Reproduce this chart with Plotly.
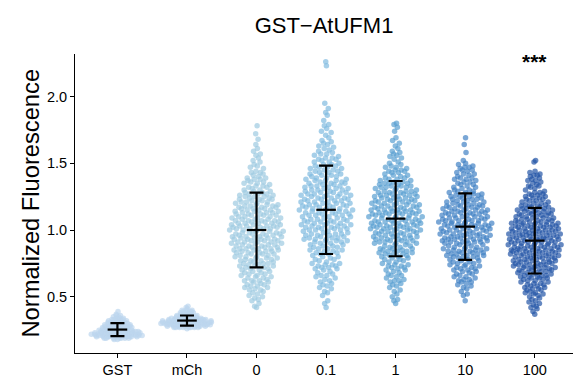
import numpy as np
import plotly.graph_objects as go

# ---- data -------------------------------------------------------------
categories = ["GST", "mCh", "0", "0.1", "1", "10", "100"]

gst_vals = [
    0.18, 0.18, 0.19, 0.19, 0.19, 0.19, 0.19, 0.19, 0.19,
    0.20, 0.20, 0.20, 0.20, 0.20, 0.20, 0.20, 0.20, 0.20, 0.20,
    0.21, 0.21, 0.21, 0.21, 0.21, 0.21, 0.21, 0.21, 0.21, 0.21, 0.21, 0.21,
    0.22, 0.22, 0.22, 0.22, 0.22, 0.22, 0.22, 0.22, 0.22, 0.22, 0.22, 0.22,
    0.23, 0.23, 0.23, 0.23, 0.23, 0.23, 0.23, 0.23, 0.23, 0.23, 0.23,
    0.24, 0.24, 0.24, 0.24, 0.24, 0.24, 0.24, 0.24, 0.24,
    0.25, 0.25, 0.25, 0.25, 0.25, 0.25, 0.25, 0.25,
    0.26, 0.26, 0.26, 0.26, 0.26, 0.26, 0.26,
    0.27, 0.27, 0.27, 0.27, 0.27, 0.27, 0.27,
    0.28, 0.28, 0.28, 0.28, 0.28, 0.28, 0.28,
    0.29, 0.29, 0.29, 0.29, 0.29,
    0.30, 0.30, 0.30, 0.30, 0.30, 0.30,
    0.31, 0.31, 0.31, 0.31, 0.31,
    0.32, 0.32, 0.32, 0.32, 0.33, 0.33, 0.33, 0.33,
    0.34, 0.34, 0.34, 0.35, 0.35, 0.36, 0.36, 0.37, 0.39,
]

mch_vals = [
    0.26, 0.27, 0.27, 0.27, 0.27, 0.27, 0.27, 0.27, 0.27,
    0.28, 0.28, 0.28, 0.28, 0.28, 0.28, 0.28, 0.28, 0.28, 0.28,
    0.29, 0.29, 0.29, 0.29, 0.29, 0.29, 0.29, 0.29, 0.29, 0.29, 0.29, 0.29,
    0.30, 0.30, 0.30, 0.30, 0.30, 0.30, 0.30, 0.30, 0.30, 0.30, 0.30, 0.30, 0.30,
    0.31, 0.31, 0.31, 0.31, 0.31, 0.31, 0.31, 0.31, 0.31, 0.31, 0.31, 0.31, 0.31,
    0.32, 0.32, 0.32, 0.32, 0.32, 0.32, 0.32, 0.32, 0.32, 0.32, 0.32, 0.32,
    0.33, 0.33, 0.33, 0.33, 0.33, 0.33, 0.33, 0.33, 0.33, 0.33,
    0.34, 0.34, 0.34, 0.34, 0.34, 0.34, 0.34, 0.34,
    0.35, 0.35, 0.35, 0.35, 0.35, 0.35,
    0.36, 0.36, 0.36, 0.36, 0.36,
    0.37, 0.37, 0.37, 0.37,
    0.38, 0.38, 0.38, 0.38, 0.39, 0.39, 0.39, 0.40, 0.40, 0.40, 0.41, 0.42, 0.43,
]

c0_vals = [
    0.42, 0.43, 0.45, 0.47, 0.48, 0.49,
    0.50, 0.51, 0.52, 0.53, 0.54, 0.55, 0.55, 0.56, 0.57, 0.57, 0.58, 0.58, 0.59, 0.59,
    0.60, 0.61, 0.61, 0.62, 0.62, 0.62, 0.63, 0.64, 0.64, 0.65, 0.65, 0.66, 0.66, 0.67, 0.67, 0.68,
    0.68, 0.69, 0.69,
    0.70, 0.70, 0.71, 0.71, 0.72, 0.72, 0.73, 0.73, 0.73, 0.74, 0.74, 0.75, 0.75, 0.75, 0.76, 0.76,
    0.77, 0.77, 0.77, 0.78, 0.78, 0.79, 0.79, 0.79,
    0.80, 0.80, 0.80, 0.81, 0.81, 0.82, 0.82, 0.82, 0.83, 0.83, 0.83, 0.84, 0.84, 0.84, 0.85, 0.85,
    0.85, 0.86, 0.86, 0.86, 0.86, 0.87, 0.87, 0.87, 0.88, 0.88, 0.88, 0.89, 0.89, 0.89,
    0.90, 0.90, 0.90, 0.91, 0.91, 0.91, 0.91, 0.92, 0.92, 0.92, 0.93, 0.93, 0.93, 0.93, 0.94, 0.94,
    0.94, 0.95, 0.95, 0.95, 0.95, 0.96, 0.96, 0.96, 0.97, 0.97, 0.97, 0.97, 0.98, 0.98, 0.98, 0.99,
    0.99, 0.99,
    1.00, 1.00, 1.00, 1.01, 1.01, 1.01, 1.01, 1.02, 1.02, 1.02, 1.03, 1.03, 1.03, 1.03, 1.04, 1.04,
    1.04, 1.05, 1.05, 1.05, 1.05, 1.06, 1.06, 1.06, 1.07, 1.07, 1.07, 1.07, 1.08, 1.08, 1.08, 1.09,
    1.09, 1.09,
    1.10, 1.10, 1.10, 1.11, 1.11, 1.11, 1.12, 1.12, 1.12, 1.13, 1.13, 1.13, 1.14, 1.14, 1.14, 1.15,
    1.15, 1.15, 1.16, 1.16, 1.16, 1.17, 1.17, 1.17, 1.18, 1.18, 1.18, 1.19, 1.19, 1.19,
    1.20, 1.20, 1.21, 1.21, 1.21, 1.22, 1.22, 1.23, 1.23, 1.23, 1.24, 1.24, 1.25, 1.25, 1.25, 1.26,
    1.26, 1.27, 1.27, 1.27, 1.28, 1.28, 1.29, 1.29,
    1.30, 1.30, 1.31, 1.32, 1.32, 1.33, 1.33, 1.34, 1.35, 1.35, 1.36, 1.36, 1.37, 1.38, 1.38, 1.39, 1.39,
    1.40, 1.41, 1.42, 1.43, 1.43, 1.44, 1.46, 1.47, 1.48, 1.49,
    1.51, 1.52, 1.54, 1.56, 1.57, 1.59, 1.61, 1.64, 1.68, 1.72, 1.78,
]

c01_vals = [
    0.42, 0.45, 0.47, 0.51, 0.53, 0.54, 0.56, 0.57, 0.58, 0.59,
    0.60, 0.61, 0.62, 0.63, 0.64, 0.65, 0.66, 0.66, 0.67, 0.68, 0.69,
    0.70, 0.71, 0.71, 0.72, 0.72, 0.73, 0.73, 0.74, 0.74, 0.75, 0.75, 0.76, 0.77, 0.78, 0.78, 0.79,
    0.80, 0.80, 0.81, 0.82, 0.82, 0.83, 0.83, 0.84, 0.84, 0.85, 0.85, 0.86, 0.86, 0.87, 0.87, 0.88,
    0.88, 0.89, 0.89,
    0.90, 0.90, 0.91, 0.91, 0.92, 0.92, 0.92, 0.93, 0.93, 0.93, 0.94, 0.94, 0.94, 0.95, 0.95, 0.96,
    0.96, 0.96, 0.97, 0.97, 0.97, 0.98, 0.98, 0.99, 0.99,
    1.00, 1.00, 1.00, 1.01, 1.01, 1.01, 1.02, 1.02, 1.02, 1.03, 1.03, 1.03, 1.04, 1.04, 1.04, 1.05,
    1.05, 1.05, 1.06, 1.06, 1.06, 1.07, 1.07, 1.07, 1.08, 1.08, 1.08, 1.09, 1.09,
    1.10, 1.10, 1.10, 1.11, 1.11, 1.11, 1.12, 1.12, 1.12, 1.13, 1.13, 1.13, 1.14, 1.14, 1.14, 1.15,
    1.15, 1.15, 1.16, 1.16, 1.16, 1.17, 1.17, 1.17, 1.18, 1.18, 1.18, 1.19, 1.19, 1.19,
    1.20, 1.20, 1.20, 1.21, 1.21, 1.21, 1.22, 1.22, 1.22, 1.23, 1.23, 1.23, 1.24, 1.24, 1.24, 1.25,
    1.25, 1.25, 1.26, 1.26, 1.26, 1.27, 1.27, 1.27, 1.28, 1.28, 1.28, 1.29, 1.29,
    1.30, 1.30, 1.30, 1.31, 1.31, 1.31, 1.32, 1.32, 1.33, 1.33, 1.33, 1.34, 1.34, 1.35, 1.35, 1.35,
    1.36, 1.36, 1.37, 1.37, 1.37, 1.38, 1.38, 1.39, 1.39,
    1.40, 1.40, 1.41, 1.41, 1.42, 1.42, 1.43, 1.43, 1.44, 1.44, 1.45, 1.45, 1.46, 1.46, 1.47, 1.47,
    1.48, 1.48, 1.49, 1.49,
    1.50, 1.51, 1.51, 1.52, 1.53, 1.53, 1.54, 1.54, 1.55, 1.56, 1.57, 1.57, 1.58, 1.59,
    1.60, 1.61, 1.62, 1.63, 1.64, 1.65, 1.66, 1.67, 1.69,
    1.71, 1.73, 1.74, 1.76, 1.78, 1.79, 1.82, 1.86, 1.88, 1.91, 1.95, 2.23, 2.26,
]

c1_vals = [
    0.45, 0.47, 0.48, 0.50, 0.52, 0.54, 0.55, 0.57, 0.58, 0.59,
    0.60, 0.61, 0.62, 0.62, 0.63, 0.64, 0.65, 0.66, 0.66, 0.67, 0.68, 0.69,
    0.70, 0.70, 0.71, 0.72, 0.72, 0.73, 0.73, 0.74, 0.74, 0.75, 0.76, 0.76, 0.77, 0.78, 0.78, 0.79,
    0.79,
    0.80, 0.80, 0.81, 0.81, 0.82, 0.82, 0.83, 0.83, 0.83, 0.84, 0.84, 0.84, 0.85, 0.85, 0.86, 0.86,
    0.86, 0.87, 0.87, 0.88, 0.88, 0.89, 0.89,
    0.90, 0.90, 0.90, 0.91, 0.91, 0.91, 0.92, 0.92, 0.92, 0.93, 0.93, 0.93, 0.94, 0.94, 0.94, 0.95,
    0.95, 0.95, 0.96, 0.96, 0.96, 0.97, 0.97, 0.97, 0.98, 0.98, 0.98, 0.99, 0.99, 0.99,
    1.00, 1.00, 1.00, 1.01, 1.01, 1.01, 1.01, 1.02, 1.02, 1.02, 1.03, 1.03, 1.03, 1.03, 1.04, 1.04,
    1.04, 1.05, 1.05, 1.05, 1.05, 1.06, 1.06, 1.06, 1.07, 1.07, 1.07, 1.07, 1.08, 1.08, 1.08, 1.09,
    1.09, 1.09,
    1.10, 1.10, 1.10, 1.11, 1.11, 1.11, 1.12, 1.12, 1.12, 1.12, 1.13, 1.13, 1.13, 1.13, 1.14, 1.14,
    1.14, 1.15, 1.15, 1.15, 1.15, 1.16, 1.16, 1.16, 1.17, 1.17, 1.17, 1.18, 1.18, 1.18, 1.19, 1.19,
    1.19,
    1.20, 1.20, 1.20, 1.21, 1.21, 1.21, 1.22, 1.22, 1.22, 1.23, 1.23, 1.23, 1.24, 1.24, 1.24, 1.25,
    1.25, 1.25, 1.26, 1.26, 1.26, 1.27, 1.27, 1.27, 1.28, 1.28, 1.28, 1.29, 1.29, 1.29,
    1.30, 1.30, 1.31, 1.31, 1.32, 1.32, 1.32, 1.33, 1.33, 1.33, 1.34, 1.34, 1.35, 1.35, 1.35, 1.36,
    1.36, 1.37, 1.37, 1.38, 1.38, 1.39, 1.39,
    1.40, 1.41, 1.41, 1.42, 1.43, 1.43, 1.44, 1.44, 1.45, 1.45, 1.46, 1.47, 1.47, 1.48, 1.49,
    1.50, 1.51, 1.53, 1.54, 1.55, 1.56, 1.57, 1.58, 1.59,
    1.61, 1.63, 1.65, 1.67, 1.69, 1.74, 1.77, 1.79, 1.80,
]

c10_vals = [
    0.47, 0.51, 0.52, 0.54, 0.56, 0.57, 0.58, 0.59,
    0.60, 0.61, 0.61, 0.62, 0.63, 0.63, 0.64, 0.65, 0.65, 0.66, 0.67, 0.67, 0.68, 0.69, 0.69,
    0.70, 0.70, 0.71, 0.71, 0.72, 0.72, 0.73, 0.73, 0.74, 0.74, 0.75, 0.75, 0.76, 0.76, 0.77, 0.77,
    0.78, 0.78, 0.79, 0.79,
    0.80, 0.80, 0.80, 0.81, 0.81, 0.81, 0.82, 0.82, 0.82, 0.83, 0.83, 0.83, 0.84, 0.84, 0.84, 0.85,
    0.85, 0.85, 0.86, 0.86, 0.86, 0.87, 0.87, 0.87, 0.88, 0.88, 0.89, 0.89,
    0.90, 0.90, 0.90, 0.91, 0.91, 0.91, 0.91, 0.92, 0.92, 0.92, 0.93, 0.93, 0.93, 0.93, 0.94, 0.94,
    0.94, 0.95, 0.95, 0.95, 0.95, 0.96, 0.96, 0.96, 0.97, 0.97, 0.97, 0.97, 0.98, 0.98, 0.98, 0.99,
    0.99, 0.99,
    1.00, 1.00, 1.00, 1.01, 1.01, 1.01, 1.01, 1.02, 1.02, 1.02, 1.03, 1.03, 1.03, 1.03, 1.04, 1.04,
    1.04, 1.04, 1.05, 1.05, 1.05, 1.05, 1.06, 1.06, 1.06, 1.07, 1.07, 1.07, 1.07, 1.08, 1.08, 1.08,
    1.09, 1.09, 1.09,
    1.10, 1.10, 1.10, 1.11, 1.11, 1.11, 1.12, 1.12, 1.12, 1.13, 1.13, 1.13, 1.13, 1.14, 1.14, 1.14,
    1.15, 1.15, 1.15, 1.16, 1.16, 1.16, 1.17, 1.17, 1.17, 1.18, 1.18, 1.18, 1.19, 1.19, 1.19,
    1.20, 1.20, 1.21, 1.21, 1.21, 1.22, 1.22, 1.23, 1.23, 1.23, 1.24, 1.24, 1.25, 1.25, 1.25, 1.26,
    1.26, 1.27, 1.27, 1.27, 1.28, 1.28, 1.29, 1.29,
    1.30, 1.30, 1.31, 1.32, 1.32, 1.33, 1.34, 1.34, 1.35, 1.36, 1.36, 1.37, 1.38, 1.38, 1.39, 1.39,
    1.40, 1.41, 1.42, 1.42, 1.43, 1.44, 1.45, 1.45, 1.46, 1.47, 1.47, 1.48, 1.49,
    1.50, 1.52, 1.58, 1.64, 1.69,
]

c100_vals = [
    0.37, 0.39, 0.41, 0.42, 0.43, 0.44, 0.45, 0.46, 0.47, 0.48, 0.49,
    0.50, 0.51, 0.52, 0.52, 0.53, 0.53, 0.54, 0.55, 0.55, 0.56, 0.56, 0.57, 0.57, 0.58, 0.58, 0.59,
    0.59,
    0.60, 0.60, 0.61, 0.61, 0.62, 0.62, 0.63, 0.63, 0.64, 0.64, 0.64, 0.65, 0.65, 0.65, 0.66, 0.66,
    0.66, 0.67, 0.67, 0.68, 0.68, 0.68, 0.69, 0.69, 0.69,
    0.70, 0.70, 0.70, 0.71, 0.71, 0.71, 0.72, 0.72, 0.72, 0.72, 0.73, 0.73, 0.73, 0.74, 0.74, 0.74,
    0.74, 0.75, 0.75, 0.75, 0.76, 0.76, 0.76, 0.76, 0.77, 0.77, 0.77, 0.78, 0.78, 0.78, 0.78, 0.79,
    0.79, 0.79,
    0.80, 0.80, 0.80, 0.80, 0.81, 0.81, 0.81, 0.81, 0.82, 0.82, 0.82, 0.82, 0.83, 0.83, 0.83, 0.83,
    0.84, 0.84, 0.84, 0.84, 0.85, 0.85, 0.85, 0.85, 0.85, 0.86, 0.86, 0.86, 0.86, 0.87, 0.87, 0.87,
    0.87, 0.88, 0.88, 0.88, 0.88, 0.89, 0.89, 0.89, 0.89,
    0.90, 0.90, 0.90, 0.90, 0.91, 0.91, 0.91, 0.91, 0.92, 0.92, 0.92, 0.92, 0.93, 0.93, 0.93, 0.93,
    0.93, 0.94, 0.94, 0.94, 0.94, 0.95, 0.95, 0.95, 0.95, 0.96, 0.96, 0.96, 0.96, 0.97, 0.97, 0.97,
    0.97, 0.97, 0.98, 0.98, 0.98, 0.98, 0.99, 0.99, 0.99, 0.99,
    1.00, 1.00, 1.00, 1.00, 1.01, 1.01, 1.01, 1.01, 1.02, 1.02, 1.02, 1.02, 1.03, 1.03, 1.03, 1.03,
    1.04, 1.04, 1.04, 1.04, 1.05, 1.05, 1.05, 1.05, 1.06, 1.06, 1.06, 1.06, 1.07, 1.07, 1.07, 1.08,
    1.08, 1.08, 1.09, 1.09, 1.09,
    1.10, 1.10, 1.10, 1.11, 1.11, 1.11, 1.12, 1.12, 1.12, 1.13, 1.13, 1.13, 1.14, 1.14, 1.14, 1.15,
    1.15, 1.15, 1.16, 1.16, 1.16, 1.17, 1.17, 1.17, 1.18, 1.18, 1.18, 1.19, 1.19,
    1.20, 1.20, 1.21, 1.21, 1.22, 1.22, 1.23, 1.23, 1.24, 1.24, 1.25, 1.25, 1.26, 1.26, 1.27, 1.27,
    1.28, 1.28, 1.29,
    1.30, 1.31, 1.32, 1.33, 1.33, 1.34, 1.35, 1.36, 1.37, 1.37, 1.38, 1.39,
    1.40, 1.41, 1.41, 1.42, 1.43, 1.44, 1.51, 1.52,
]

group_values = [gst_vals, mch_vals, c0_vals, c01_vals, c1_vals, c10_vals, c100_vals]
point_colors = ["#bcd6ee", "#bcd6ee", "#9ecae1", "#80badf", "#5a9fd2", "#4282c4", "#2356a6"]
significance = "***"


# ---- quasirandom horizontal offsets (density-scaled van der Corput) ---
def van_der_corput(n, base=2):
    seq = np.empty(n)
    for i in range(1, n + 1):
        v, denom, k = 0.0, 1.0, i
        while k:
            k, r = divmod(k, base)
            denom *= base
            v += r / denom
        seq[i - 1] = v
    return seq


def quasirandom_offsets(vals, width=0.39, adjust=0.5):
    y = np.asarray(vals, dtype=float)
    n = len(y)
    sd = y.std(ddof=1)
    iqr = np.subtract(*np.percentile(y, [75, 25]))
    bw = 0.9 * min(sd, iqr / 1.34) * n ** -0.2 * adjust
    grid = np.linspace(y.min() - 3 * bw, y.max() + 3 * bw, 512)
    dens = np.exp(-0.5 * ((grid[:, None] - y[None, :]) / bw) ** 2).sum(axis=1)
    scale = np.interp(y, grid, dens) / dens.max()
    order = np.argsort(y, kind="stable")
    ranks = np.empty(n, dtype=int)
    ranks[order] = np.arange(n)
    q = van_der_corput(n)[ranks]
    return (q * 2 - 1) * scale * width


fig = go.Figure()

for i, (vals, col) in enumerate(zip(group_values, point_colors)):
    xpos = i + 1 + quasirandom_offsets(vals)
    fig.add_trace(go.Scatter(
        x=xpos, y=vals, mode="markers",
        marker=dict(size=5.5, color=col, opacity=0.7, line=dict(width=0)),
        hoverinfo="skip", showlegend=False,
    ))

# mean ± SD
means = [float(np.mean(v)) for v in group_values]
sds = [float(np.std(v, ddof=1)) for v in group_values]
fig.add_trace(go.Scatter(
    x=list(range(1, len(categories) + 1)), y=means, mode="markers",
    marker=dict(symbol="line-ew", size=14, line=dict(width=2.2, color="black")),
    error_y=dict(type="data", array=sds, visible=True, color="black",
                 thickness=2.2, width=7),
    hoverinfo="skip", showlegend=False,
))

font_family = "Liberation Sans, Arial, sans-serif"
axis_common = dict(
    showline=True, linecolor="black", linewidth=1.1,
    ticks="outside", ticklen=4, tickwidth=1.1, tickcolor="black",
    showgrid=False, zeroline=False,
    tickfont=dict(family=font_family, size=14.5, color="black"),
)

fig.update_layout(
    width=573, height=379,
    margin=dict(l=75, r=0, t=54, b=26),
    paper_bgcolor="white", plot_bgcolor="white",
    title=dict(text="GST\u2212AtUFM1", x=0.5, xref="paper", xanchor="center",
               y=1 - 25 / 379, yref="container", yanchor="middle",
               font=dict(family=font_family, size=22, color="black")),
    xaxis=dict(range=[0.39, 7.55], tickmode="array",
               tickvals=list(range(1, len(categories) + 1)), ticktext=categories,
               **axis_common),
    yaxis=dict(range=[0.079, 2.318], tickmode="array",
               tickvals=[0.5, 1.0, 1.5, 2.0], ticktext=["0.5", "1.0", "1.5", "2.0"],
               **axis_common),
    annotations=[
        dict(text="Normalized Fluorescence", x=0, y=0.5, xref="paper", yref="paper",
             xanchor="center", yanchor="middle", xshift=-45, textangle=-90, showarrow=False,
             font=dict(family=font_family, size=23.7, color="black")),
        dict(text="<b>" + significance + "</b>", x=7, y=2.26, xref="x", yref="y",
             xanchor="center", yanchor="middle", showarrow=False,
             font=dict(family=font_family, size=21, color="black")),
    ],
)

fig.write_html("out.html")
